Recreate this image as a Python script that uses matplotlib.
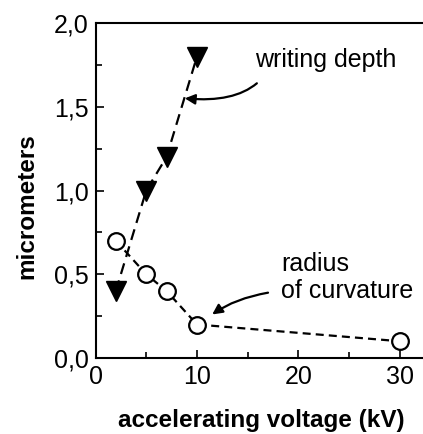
import matplotlib.pyplot as plt
from matplotlib.ticker import MultipleLocator, FuncFormatter

plt.rcParams['font.family'] = ['Liberation Sans', 'DejaVu Sans']

# writing depth (filled triangles)
depth_kv = [2, 5, 7, 10]
depth_um = [0.4, 1.0, 1.2, 1.8]

# radius of curvature (open circles)
radius_kv = [2, 5, 7, 10, 30]
radius_um = [0.7, 0.5, 0.4, 0.2, 0.1]

fig = plt.figure(figsize=(4.23, 4.34), dpi=100)
ax = fig.add_axes([95.5 / 423, 76 / 434, 327.5 / 423, 335 / 434])

ax.plot(depth_kv, depth_um, ls=(0, (5, 3)), color='black', lw=1.6,
        marker='v', ms=14.5, mfc='black', mec='black')
ax.plot(radius_kv, radius_um, ls=(0, (3.6, 2.3)), color='black', lw=1.6,
        marker='o', ms=12, mfc='white', mec='black', mew=1.6)

ax.set_xlim(0, 32.27)
ax.set_ylim(0, 2.0)

ax.xaxis.set_major_locator(MultipleLocator(10))
ax.xaxis.set_minor_locator(MultipleLocator(5))
ax.yaxis.set_major_locator(MultipleLocator(0.5))
ax.yaxis.set_minor_locator(MultipleLocator(0.25))
ax.yaxis.set_major_formatter(FuncFormatter(lambda v, p: f'{v:.1f}'.replace('.', ',')))

ax.tick_params(which='both', direction='in', width=1.2, labelsize=18, pad=5)
ax.tick_params(which='major', length=6)
ax.tick_params(which='minor', length=4)
ax.tick_params(top=False, right=False)

ax.spines['right'].set_visible(False)
for s in ['left', 'bottom', 'top']:
    ax.spines[s].set_linewidth(1.5)

ax.set_xlabel('accelerating voltage (kV)', fontsize=17.5, fontweight='bold')
ax.set_ylabel('micrometers', fontsize=17.5, fontweight='bold')
ax.xaxis.set_label_coords(0.505, -0.152)
ax.yaxis.set_label_coords(-0.175, 0.454)

# annotations with curved arrows
ax.annotate('', xy=(8.8, 1.55), xytext=(15.9, 1.64),
            arrowprops=dict(arrowstyle='-|>', color='black', lw=1.6,
                            connectionstyle='angle3,angleA=40,angleB=-5',
                            mutation_scale=15, shrinkA=0, shrinkB=0))
ax.text(15.7, 1.78, 'writing depth', fontsize=18, va='center', ha='left')

ax.annotate('', xy=(11.5, 0.26), xytext=(17.0, 0.39),
            arrowprops=dict(arrowstyle='-|>', color='black', lw=1.6,
                            connectionstyle='angle3,angleA=10,angleB=35',
                            mutation_scale=15, shrinkA=0, shrinkB=0))
ax.text(18.3, 0.48, 'radius\nof curvature', fontsize=18, va='center', ha='left',
        linespacing=1.15)

plt.savefig('out.png', dpi=100)
